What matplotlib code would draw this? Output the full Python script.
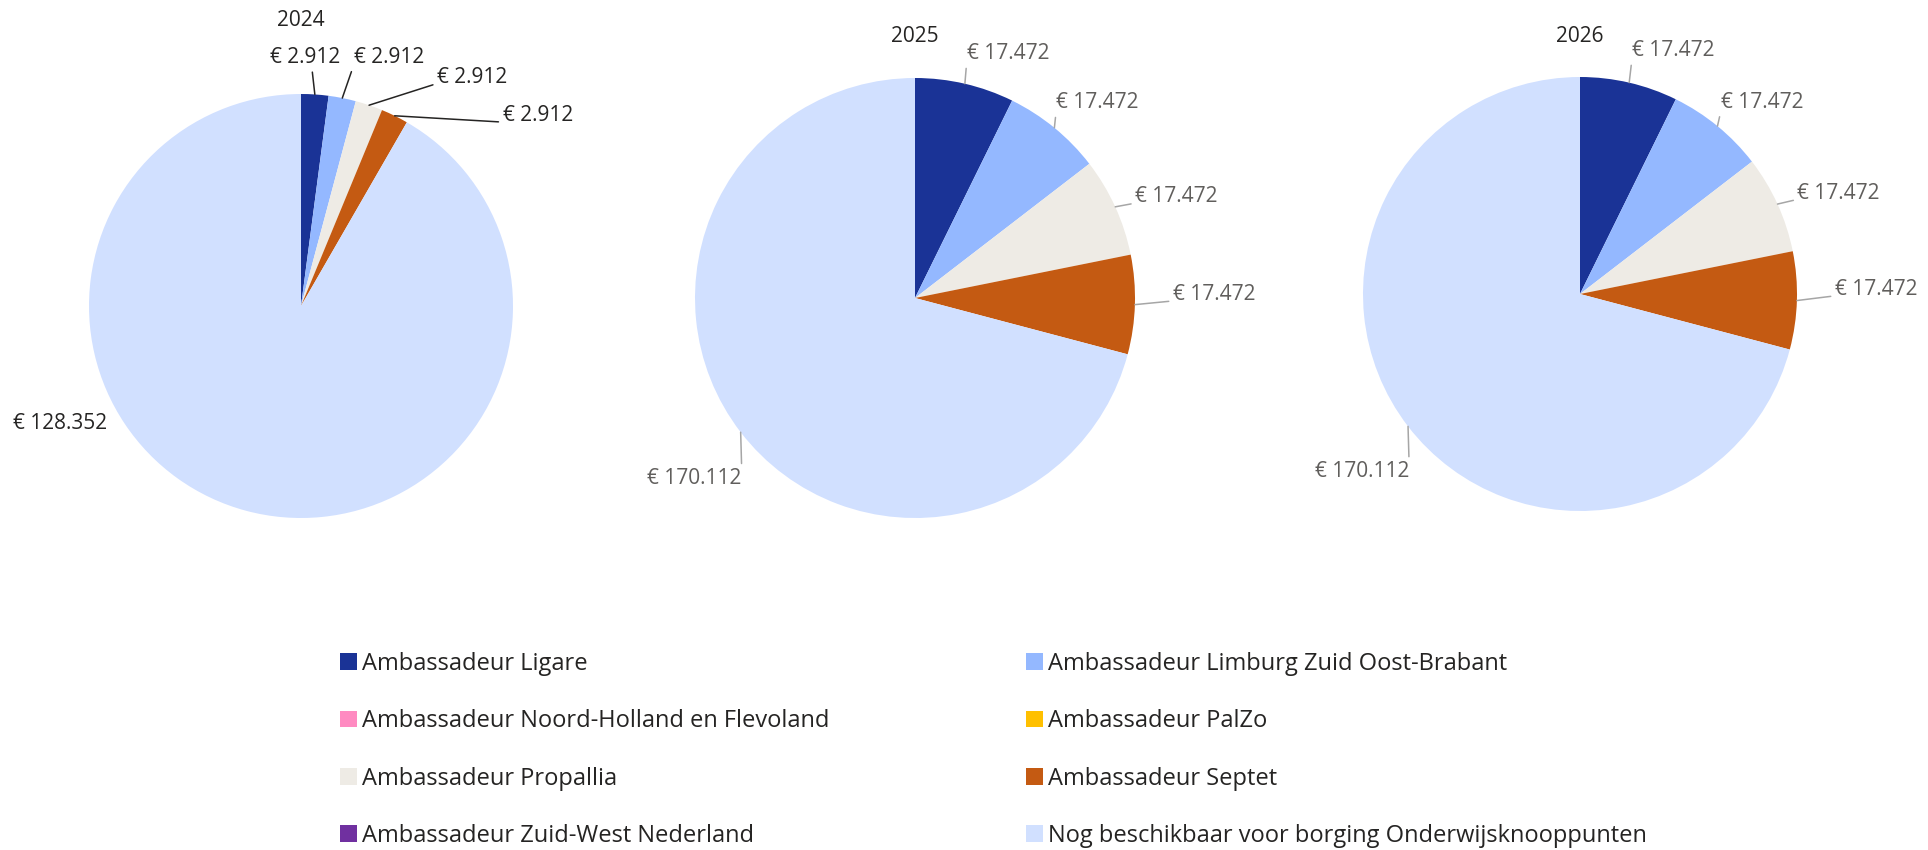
"""
Pie charts: budget per ambassador per year (2024-2026).
"""

import numpy as np
import matplotlib
matplotlib.use("Agg")
import matplotlib.pyplot as plt
from matplotlib.patches import Patch

plt.rcParams["font.family"] = ["Open Sans", "DejaVu Sans"]

# ---- data -------------------------------------------------------------
CATEGORIES = [
    "Ambassadeur Ligare",
    "Ambassadeur Limburg Zuid Oost-Brabant",
    "Ambassadeur Noord-Holland en Flevoland",
    "Ambassadeur PalZo",
    "Ambassadeur Propallia",
    "Ambassadeur Septet",
    "Ambassadeur Zuid-West Nederland",
    "Nog beschikbaar voor borging Onderwijsknooppunten",
]
YEARS       = ["2024", "2025", "2026"]
VALUES_2024 = [2912, 2912, 0, 0, 2912, 2912, 0, 128352]
VALUES_2025 = [17472, 17472, 0, 0, 17472, 17472, 0, 170112]
VALUES_2026 = [17472, 17472, 0, 0, 17472, 17472, 0, 170112]
VALUES      = [VALUES_2024, VALUES_2025, VALUES_2026]

# ---- style ------------------------------------------------------------
COLORS = ["#1A3396", "#94B8FF", "#FF8AC1", "#FFC000",
          "#EEEBE5", "#C45A12", "#7030A0", "#D1E0FF"]

W, H = 1928, 850
# pie centre (px) and radius (px) per chart
PIE_BOX = [(301, 306, 212), (915, 298, 220), (1580, 294, 217)]
TITLE_GAP = [73, 41, 40]          # px above top of the pie
# label offsets (dx, dy px, y downwards) from the slice edge, one per non-zero slice
LABEL_OFFSETS = [
    [(-10, -37), (12, -41), (68, -28), (108, 0), (-139, -87)],
    [(2, -30), (2, -25), (20, -10), (38, -10), (1, 46)],
    [(3, -32), (4, -24), (20, -11), (38, -11), (1, 45)],
]
LABEL_COLOR = ["#252423", "#605E5C", "#605E5C"]
LINE_COLOR  = ["#252423", "#A6A6A6", "#A6A6A6"]


def euro(v):
    return "€ " + f"{v:,}".replace(",", ".")


fig = plt.figure(figsize=(W / 100, H / 100), dpi=100)

for i, (year, vals) in enumerate(zip(YEARS, VALUES)):
    cx, cy, r = PIE_BOX[i]
    ax = fig.add_axes([(cx - r) / W, 1 - (cy + r) / H, 2 * r / W, 2 * r / H])
    wedges, _ = ax.pie(vals, colors=COLORS, startangle=90, counterclock=False,
                       wedgeprops=dict(linewidth=0))
    ax.set_aspect("auto")
    ax.set_xlim(-1, 1); ax.set_ylim(-1, 1)
    ax.axis("off")

    ax.annotate(year, xy=(0, 1), xytext=(0, TITLE_GAP[i]), textcoords="offset pixels",
                ha="center", va="center", fontsize=15, color="#252423",
                annotation_clip=False)

    k = 0
    for w, v in zip(wedges, vals):
        if v == 0:
            continue
        mid = np.deg2rad((w.theta1 + w.theta2) / 2)
        anchor = (np.cos(mid), np.sin(mid))
        dx, dy = LABEL_OFFSETS[i][k]
        big = k == 4
        if big:
            ha, relpos = "right", (1, 1)
        elif i == 0 and k == 0:
            ha, relpos = "center", (0.6, 0)
        else:
            ha, relpos = "left", (0, 0.2)
        arrow = None
        if not (i == 0 and big):
            arrow = dict(arrowstyle="-", color=LINE_COLOR[i], lw=1.1,
                         relpos=relpos, shrinkA=1, shrinkB=0)
        ax.annotate(euro(v), xy=anchor, xytext=(dx, -dy), textcoords="offset pixels",
                    ha=ha, va="center", fontsize=15, color=LABEL_COLOR[i],
                    arrowprops=arrow, annotation_clip=False)
        k += 1

# ---- legend (row-major in two columns) --------------------------------
handles = [Patch(facecolor=c, edgecolor="none") for c in COLORS]
LEGEND_X = [340, 1026]
for col in range(2):
    idx = list(range(col, len(CATEGORIES), 2))
    fig.legend([handles[j] for j in idx], [CATEGORIES[j] for j in idx],
               loc="upper left", bbox_to_anchor=(LEGEND_X[col] / W, 1 - 652 / H),
               frameon=False, fontsize=17, borderpad=0, borderaxespad=0,
               handlelength=0.72, handleheight=0.72, handletextpad=0.2,
               labelspacing=1.41, labelcolor="#252423")

fig.savefig("out.png", dpi=100, facecolor="white")
